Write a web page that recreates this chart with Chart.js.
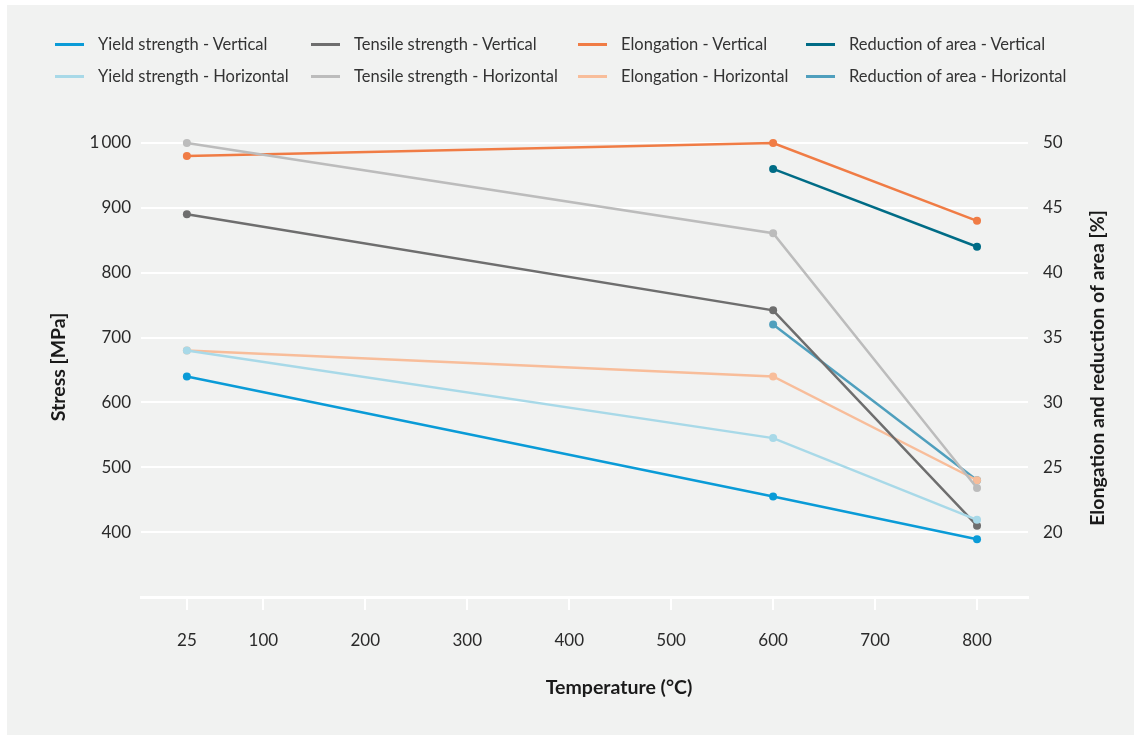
<!DOCTYPE html>
<html lang="en">
<head>
    <meta charset="UTF-8">
    <title>Stress vs Temperature</title>
    <script src="https://cdn.jsdelivr.net/npm/chart.js"></script>
    <style>
        html, body { margin: 0; padding: 0; background: #ffffff; }
        #panel {
            position: absolute; left: 7px; top: 5px; width: 1127px; height: 730px;
            background: #f1f2f1;
        }
        #wrap { position: absolute; left: 0; top: 0; width: 1134px; height: 735px; }
        .legend { position: absolute; font-family: Lato, sans-serif; font-size: 16.5px; color: #333; }
        .legend .item { position: absolute; white-space: nowrap; }
        .legend .swatch { position: absolute; width: 29px; height: 3px; top: 9px; }
        .legend .label { position: absolute; left: 43px; top: 0; line-height: 20px; }
    </style>
</head>
<body>
    <div id="panel"></div>
    <div id="wrap"><canvas id="chart" width="1134" height="735"></canvas></div>
    <div class="legend" id="legend"></div>

    <script>
        // Temperatures (°C) at which the samples were tested
        const temperatures = [25, 600, 800];
        const xTicks = [25, 100, 200, 300, 400, 500, 600, 700, 800];

        // Stress [MPa]
        const yieldVertical = [640, 455, 389];
        const yieldHorizontal = [680, 545, 419];
        const tensileVertical = [890, 742, 410];
        const tensileHorizontal = [1000, 861, 468];

        // Elongation and reduction of area [%]
        const elongationVertical = [49, 50, 44];
        const elongationHorizontal = [34, 32, 24];
        const reductionVertical = [null, 48, 42];
        const reductionHorizontal = [null, 36, 24];

        const stressTicks = [400, 500, 600, 700, 800, 900, 1000];
        const percentTicks = [20, 25, 30, 35, 40, 45, 50];

        const series = [
            { label: 'Yield strength - Vertical', data: yieldVertical, color: '#0a9bd7', axis: 'y' },
            { label: 'Yield strength - Horizontal', data: yieldHorizontal, color: '#a8d9e8', axis: 'y' },
            { label: 'Tensile strength - Vertical', data: tensileVertical, color: '#6e6e6e', axis: 'y' },
            { label: 'Tensile strength - Horizontal', data: tensileHorizontal, color: '#bcbcbc', axis: 'y' },
            { label: 'Elongation - Vertical', data: elongationVertical, color: '#f07c45', axis: 'y1' },
            { label: 'Elongation - Horizontal', data: elongationHorizontal, color: '#f8bd9a', axis: 'y1' },
            { label: 'Reduction of area - Vertical', data: reductionVertical, color: '#006c86', axis: 'y1' },
            { label: 'Reduction of area - Horizontal', data: reductionHorizontal, color: '#4f9fbd', axis: 'y1' }
        ];

        // Build the legend: 4 columns, vertical on first row, horizontal on second
        const legendCols = [55, 311, 578, 806];
        const legendRows = [34, 66];
        const legendEl = document.getElementById('legend');
        series.forEach((s, i) => {
            const col = Math.floor(i / 2);
            const row = i % 2;
            const item = document.createElement('div');
            item.className = 'item';
            item.style.left = legendCols[col] + 'px';
            item.style.top = legendRows[row] + 'px';
            item.innerHTML = '<span class="swatch" style="background:' + s.color + '"></span>' +
                '<span class="label">' + s.label + '</span>';
            legendEl.appendChild(item);
        });

        // Axis titles (right one reads bottom-to-top, so draw them ourselves)
        const axisTitles = {
            id: 'axisTitles',
            afterDraw(chart) {
                const ctx = chart.ctx;
                const area = chart.chartArea;
                const midY = (area.top + area.bottom) / 2;
                ctx.save();
                ctx.fillStyle = '#1a1a1a';
                ctx.font = 'bold 19.5px Lato, sans-serif';
                ctx.textAlign = 'center';
                ctx.textBaseline = 'middle';
                ctx.fillText('Temperature (°C)', 619, 688);

                ctx.translate(59, midY - 3);
                ctx.rotate(-Math.PI / 2);
                ctx.fillText('Stress [MPa]', 0, 0);
                ctx.restore();

                ctx.save();
                ctx.fillStyle = '#1a1a1a';
                ctx.font = 'bold 19.5px Lato, sans-serif';
                ctx.textAlign = 'center';
                ctx.textBaseline = 'middle';
                ctx.translate(1098, midY - 2);
                ctx.rotate(-Math.PI / 2);
                ctx.fillText('Elongation and reduction of area [%]', 0, 0);
                ctx.restore();
            }
        };

        const tickFont = { family: 'Lato, sans-serif', size: 17 };

        new Chart(document.getElementById('chart'), {
            type: 'line',
            data: {
                labels: temperatures,
                datasets: series.map(s => ({
                    label: s.label,
                    data: s.data.map((v, i) => ({ x: temperatures[i], y: v })),
                    borderColor: s.color,
                    backgroundColor: s.color,
                    borderWidth: 2.5,
                    pointRadius: 4,
                    pointHoverRadius: 4,
                    pointBorderWidth: 0,
                    yAxisID: s.axis,
                    clip: false,
                    spanGaps: false,
                    tension: 0
                }))
            },
            options: {
                responsive: false,
                animation: false,
                layout: { padding: { left: 40, right: 24, top: 143, bottom: 36 } },
                plugins: {
                    legend: { display: false },
                    tooltip: { enabled: false }
                },
                scales: {
                    x: {
                        type: 'linear',
                        min: -20,
                        max: 850,
                        afterBuildTicks: scale => { scale.ticks = xTicks.map(v => ({ value: v })); },
                        afterFit: scale => { scale.height = 102; },
                        ticks: { font: tickFont, color: '#2a2a2a', padding: 20, maxRotation: 0, autoSkip: false },
                        grid: { drawOnChartArea: false, drawTicks: true, tickLength: 13, color: '#ffffff', lineWidth: 2 },
                        border: { display: true, color: '#ffffff', width: 3 }
                    },
                    y: {
                        position: 'left',
                        min: 300,
                        max: 1000,
                        afterBuildTicks: scale => { scale.ticks = [300].concat(stressTicks).map(v => ({ value: v })); },
                        afterFit: scale => { scale.width = 101; },
                        ticks: {
                            font: tickFont, color: '#2a2a2a', padding: 10,
                            callback: v => v === 300 ? '' : (v >= 1000 ? '1\u2009000' : String(v))
                        },
                        grid: { color: ctx => ctx.tick.value === 300 ? 'rgba(0,0,0,0)' : '#ffffff', lineWidth: 2, drawTicks: false },
                        border: { display: false }
                    },
                    y1: {
                        position: 'right',
                        min: 15,
                        max: 50,
                        afterBuildTicks: scale => { scale.ticks = [15].concat(percentTicks).map(v => ({ value: v })); },
                        afterFit: scale => { scale.width = 1134 - 24 - 1028; },
                        ticks: {
                            font: tickFont, color: '#2a2a2a', padding: 15,
                            callback: v => v === 15 ? '' : String(v)
                        },
                        grid: { drawOnChartArea: false, drawTicks: false },
                        border: { display: false }
                    }
                }
            },
            plugins: [axisTitles]
        });
    </script>
</body>
</html>
